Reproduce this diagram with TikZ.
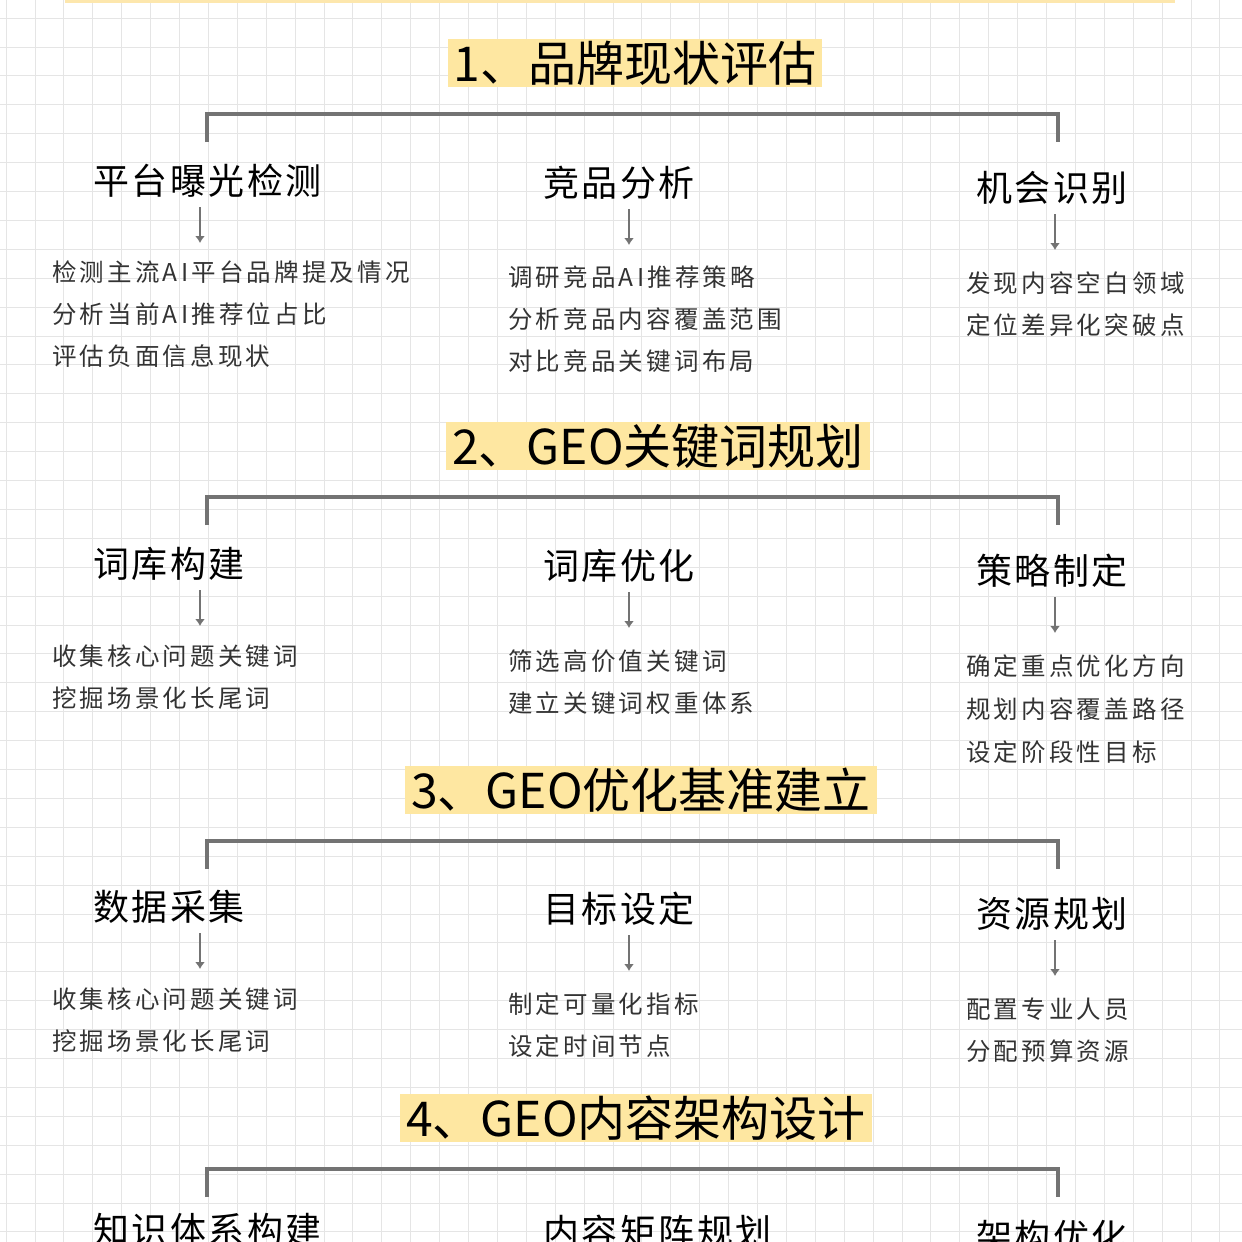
\documentclass[tikz,border=0pt]{standalone}
\usepackage{fontspec}
\setmainfont{Noto Sans CJK SC}
\usetikzlibrary{arrows.meta}
\begin{document}
\begin{tikzpicture}[x=1pt,y=-1pt,
  ttl/.style={fill=yellow!55!orange!35!white,font=\fontsize{48}{50}\selectfont,inner xsep=6,inner ysep=2,text=black},
  sub/.style={anchor=west,font=\fontsize{36}{40}\selectfont\addfontfeatures{LetterSpace=7},inner sep=0},
  itm/.style={anchor=west,font=\fontsize{24.5}{28}\selectfont\addfontfeatures{LetterSpace=13},inner sep=0,text=black!80},
  brk/.style={draw=black!55,line width=4pt},
  arr/.style={draw=black!55,line width=2.5pt,-{Latex[length=7pt,width=10pt]}}]
\clip (0,0) rectangle (1242,1242);
\fill[white] (0,0) rectangle (1242,1242);
\foreach \i in {0,...,43}{
  \draw[black!10,line width=0.8pt] (6+28.9*\i,0) -- (6+28.9*\i,1242);
  \draw[black!10,line width=0.8pt] (0,18+28.9*\i) -- (1242,18+28.9*\i);}
\fill[yellow!45!orange!30!white] (65,0) rectangle (1175,3);
\foreach \n/\x/\y/\t in {1/635/63/{1、品牌现状评估},2/658/446/{2、GEO关键词规划},3/641/790/{3、GEO优化基准建立},4/636/1118/{4、GEO内容架构设计}}{
 \node[ttl] (t\n) at (\x,\y) {\t};
 \coordinate (bl\n) at (207,\y+51); \coordinate (br\n) at (1058,\y+51);
 \coordinate (cl\n) at (207,\y+79); \coordinate (cr\n) at (1058,\y+79);
 \draw[brk] (cl\n) -- (bl\n) -- (br\n) -- (cr\n);}
\foreach \n/\xs/\xa/\y/\t in {11/93/200/181/平台曝光检测,12/543/629/183/竞品分析,13/976/1055/188/机会识别,
 21/93/200/564/词库构建,22/543/629/566/词库优化,23/976/1055/571/策略制定,
 31/93/200/907/数据采集,32/543/629/909/目标设定,33/976/1055/914/资源规划}{
 \node[sub] (s\n) at (\xs,\y) {\t};
 \coordinate (a\n) at (\xa,\y+26); \coordinate (b\n) at (\xa,\y+62);
 \draw[arr] (a\n) -- (b\n);}
\node[sub] (s41) at (93,1230) {知识体系构建};
\node[sub] (s42) at (543,1232) {内容矩阵规划};
\node[sub] (s43) at (976,1237) {架构优化};
\node[itm] (i1) at (52,272) {检测主流AI平台品牌提及情况};
\node[itm] (i2) at (52,314) {分析当前AI推荐位占比};
\node[itm] (i3) at (52,356) {评估负面信息现状};
\node[itm] (i4) at (508,277) {调研竞品AI推荐策略};
\node[itm] (i5) at (508,319) {分析竞品内容覆盖范围};
\node[itm] (i6) at (508,361) {对比竞品关键词布局};
\node[itm] (i7) at (966,283) {发现内容空白领域};
\node[itm] (i8) at (966,325) {定位差异化突破点};
\node[itm] (j1) at (52,656) {收集核心问题关键词};
\node[itm] (j2) at (52,698) {挖掘场景化长尾词};
\node[itm] (j3) at (508,661) {筛选高价值关键词};
\node[itm] (j4) at (508,703) {建立关键词权重体系};
\node[itm] (j5) at (966,666) {确定重点优化方向};
\node[itm] (j6) at (966,709) {规划内容覆盖路径};
\node[itm] (j7) at (966,752) {设定阶段性目标};
\node[itm] (k1) at (52,999) {收集核心问题关键词};
\node[itm] (k2) at (52,1041) {挖掘场景化长尾词};
\node[itm] (k3) at (508,1004) {制定可量化指标};
\node[itm] (k4) at (508,1046) {设定时间节点};
\node[itm] (k5) at (966,1009) {配置专业人员};
\node[itm] (k6) at (966,1051) {分配预算资源};
\end{tikzpicture}
\end{document}
